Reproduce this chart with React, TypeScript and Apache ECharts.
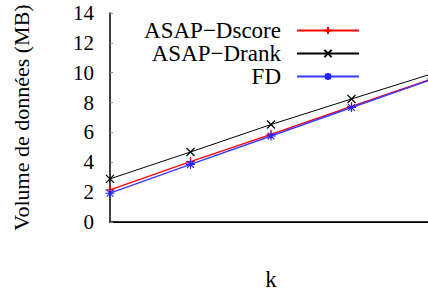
import React, { useEffect, useRef } from "react";
import * as echarts from "echarts";

const kValues = [1, 2, 3, 4, 5];
const seriesNames = ["ASAP−Dscore", "ASAP−Drank", "FD"];
const dscore = [2.15, 4.05, 5.87, 7.74, 9.6];
const drank = [2.89, 4.69, 6.53, 8.24, 9.93];
const fd = [1.93, 3.86, 5.76, 7.67, 9.55];
const yTicks = [0, 2, 4, 6, 8, 10, 12, 14];

const FONT = "Liberation Serif";

const plusPath = "path://M0,-1L0,1M-1,0L1,0";
const crossPath = "path://M-1,-1L1,1M-1,1L1,-1";
const starPath = "path://M0,-1L0,1M-1,0L1,0M-0.75,-0.75L0.75,0.75M-0.75,0.75L0.75,-0.75";

export default function App() {
  const ref = useRef<HTMLDivElement>(null);
  useEffect(() => {
    if (!ref.current) return;
    const chart = echarts.init(ref.current, null, { renderer: "svg" });
    const pts = (arr: number[]) => kValues.map((k, i) => [k, arr[i]]);
    chart.setOption({
      animation: false,
      backgroundColor: "#ffffff",
      textStyle: { fontFamily: FONT },
      grid: { left: 110, top: 13, right: 8, bottom: 70, containLabel: false },
      legend: {
        orient: "vertical",
        right: 440 - 365,
        top: 14,
        align: "right",
        itemWidth: 62,
        itemHeight: 9,
        itemGap: 0,
        selectedMode: false,
        textStyle: {
          fontFamily: FONT,
          fontSize: 23,
          color: "#000",
          lineHeight: 22,
          padding: [0, 11, 0, 0],
        },
        data: seriesNames,
      },
      xAxis: [
        {
          type: "value",
          min: 1,
          max: 5,
          position: "bottom",
          name: "k",
          nameLocation: "middle",
          nameGap: 46,
          nameTextStyle: { fontFamily: FONT, fontSize: 23, color: "#000" },
          axisLine: { show: true, lineStyle: { color: "#333", width: 2 } },
          axisTick: { show: false },
          axisLabel: { show: false },
          splitLine: { show: false },
        },
        {
          type: "value",
          min: 1,
          max: 5,
          position: "top",
          axisLine: { show: true, lineStyle: { color: "#000", width: 1 } },
          axisTick: { show: false },
          axisLabel: { show: false },
          splitLine: { show: false },
        },
      ],
      yAxis: [
        {
          type: "value",
          min: yTicks[0],
          max: yTicks[yTicks.length - 1],
          interval: 2,
          position: "left",
          name: "Volume de données (MB)",
          nameLocation: "middle",
          nameRotate: 90,
          nameGap: 78,
          nameTextStyle: { fontFamily: FONT, fontSize: 22, color: "#000" },
          axisLine: { show: true, lineStyle: { color: "#000", width: 1.5 } },
          axisTick: { show: true, inside: true, length: 3, lineStyle: { color: "#888" } },
          axisLabel: { fontFamily: FONT, fontSize: 21, color: "#000", margin: 16 },
          splitLine: { show: false },
        },
        {
          type: "value",
          min: yTicks[0],
          max: yTicks[yTicks.length - 1],
          interval: 2,
          position: "right",
          axisLine: { show: true, lineStyle: { color: "#000", width: 1 } },
          axisTick: { show: true, inside: true, length: 3, lineStyle: { color: "#888" } },
          axisLabel: { show: false },
          splitLine: { show: false },
        },
      ],
      series: [
        {
          name: seriesNames[0],
          type: "line",
          data: pts(dscore),
          symbol: plusPath,
          symbolSize: 9,
          lineStyle: { color: "#ff0000", width: 1.3 },
          itemStyle: { color: "#ff0000", borderColor: "#ff0000", borderWidth: 1.3 },
          z: 3,
        },
        {
          name: seriesNames[1],
          type: "line",
          data: pts(drank),
          symbol: crossPath,
          symbolSize: 8,
          lineStyle: { color: "#000000", width: 1 },
          itemStyle: { color: "#000000", borderColor: "#000000", borderWidth: 1.2 },
          z: 2,
        },
        {
          name: seriesNames[2],
          type: "line",
          data: pts(fd),
          symbol: starPath,
          symbolSize: 9,
          lineStyle: { color: "#3a3aff", width: 1.4 },
          itemStyle: { color: "#2222ff", borderColor: "#2222ff", borderWidth: 1.1 },
          z: 4,
        },
      ],
    });
    return () => chart.dispose();
  }, []);
  return (
    <div
      style={{ position: "fixed", left: 0, top: 0, width: 428, height: 296, overflow: "hidden" }}
    >
      <div ref={ref} style={{ width: 440, height: 296 }} />
    </div>
  );
}
